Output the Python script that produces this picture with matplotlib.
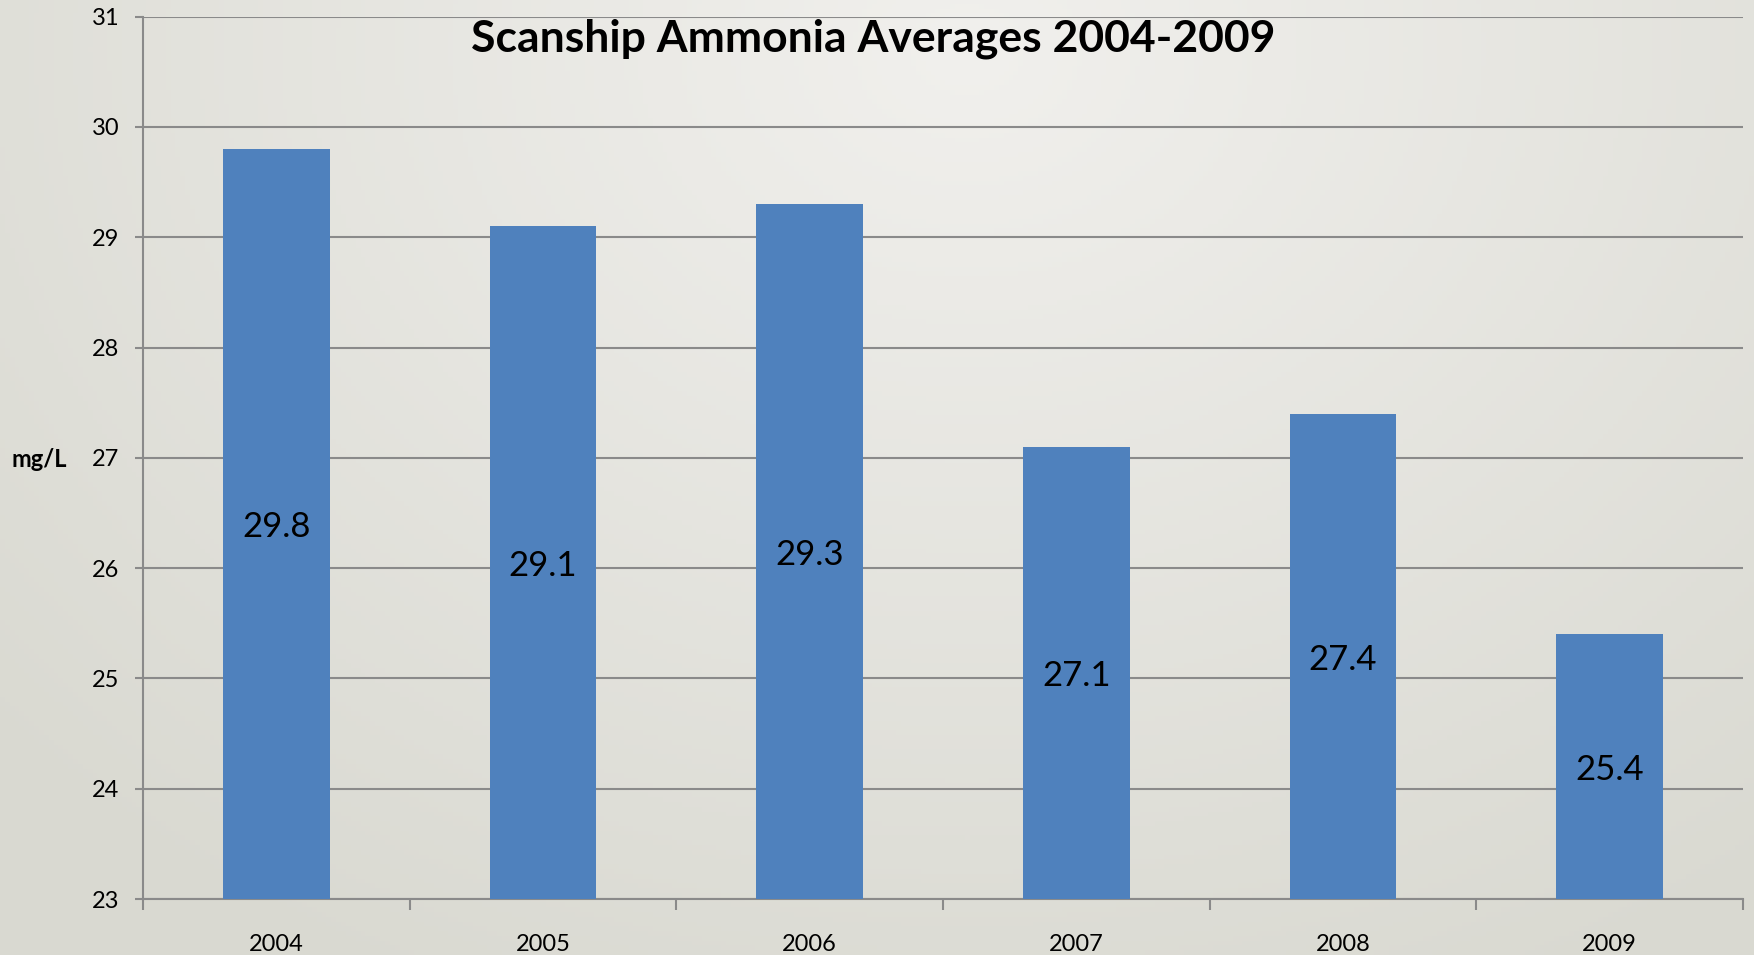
import numpy as np
import matplotlib
matplotlib.use("Agg")
import matplotlib.pyplot as plt

years = ["2004", "2005", "2006", "2007", "2008", "2009"]
values = [29.8, 29.1, 29.3, 27.1, 27.4, 25.4]
value_labels = ["29.8", "29.1", "29.3", "27.1", "27.4", "25.4"]
y_ticks = [23, 24, 25, 26, 27, 28, 29, 30, 31]
title = "Scanship Ammonia Averages 2004-2009"
ylabel = "mg/L"

plt.rcParams['font.family'] = ['Lato', 'DejaVu Sans']

fig = plt.figure(figsize=(17.54, 9.55), dpi=100)

# background gradient
bg = fig.add_axes([0, 0, 1, 1], zorder=-10)
h, w = 200, 360
yy, xx = np.mgrid[0:h, 0:w]
d = np.sqrt(((xx / w - 0.55) / 0.75) ** 2 + ((yy / h - 0.05) / 1.1) ** 2)
d = np.clip(d, 0, 1)
c_in = np.array([0xf1, 0xf0, 0xed]) / 255
c_out = np.array([0xd9, 0xd9, 0xd1]) / 255
img = c_in[None, None, :] * (1 - d[..., None]) + c_out[None, None, :] * d[..., None]
bg.imshow(img, aspect='auto', extent=[0, 1, 0, 1], origin='upper')
bg.set_axis_off()

ax = fig.add_axes([143 / 1754, 1 - 899 / 955, 1600 / 1754, (899 - 16.7) / 955])
ax.patch.set_alpha(0)
x = np.arange(len(years))
bars = ax.bar(x, values, width=0.4, color='#4F81BD', zorder=3, bottom=0)
ax.set_ylim(23, 31)
ax.set_xlim(-0.5, len(years) - 0.5)
ax.set_yticks(y_ticks)
ax.set_yticklabels([str(t) for t in y_ticks], fontsize=17)
ax.yaxis.grid(True, color='#8a8a8a', linewidth=1.5, zorder=0)
ax.set_axisbelow(True)

# x ticks at category boundaries, labels at centers
ax.set_xticks(np.arange(-0.5, len(years), 1.0))
ax.set_xticklabels([])
ax.set_xticks(x, minor=True)
ax.set_xticklabels(years, minor=True, fontsize=17)
ax.tick_params(axis='x', which='major', length=8, width=1.5, color='#8a8a8a', direction='out')
ax.tick_params(axis='x', which='minor', length=0, pad=25)
ax.tick_params(axis='y', length=6, width=1.5, color='#8a8a8a', pad=11)

for s in ['top', 'right']:
    ax.spines[s].set_visible(False)
for s in ['left', 'bottom']:
    ax.spines[s].set_color('#8a8a8a')
    ax.spines[s].set_linewidth(1.5)

for xi, v, lab in zip(x, values, value_labels):
    ax.text(xi, (23 + v) / 2 - 0.03, lab, ha='center', va='center', fontsize=25, color='black', zorder=4)

fig.text(873 / 1754, 1 - 39 / 955, title, ha='center', va='center', fontsize=32, fontweight='bold')
fig.text(39 / 1754, 1 - 459 / 955, ylabel, ha='center', va='center', fontsize=17, fontweight='bold')

fig.savefig("out.png", dpi=100)
